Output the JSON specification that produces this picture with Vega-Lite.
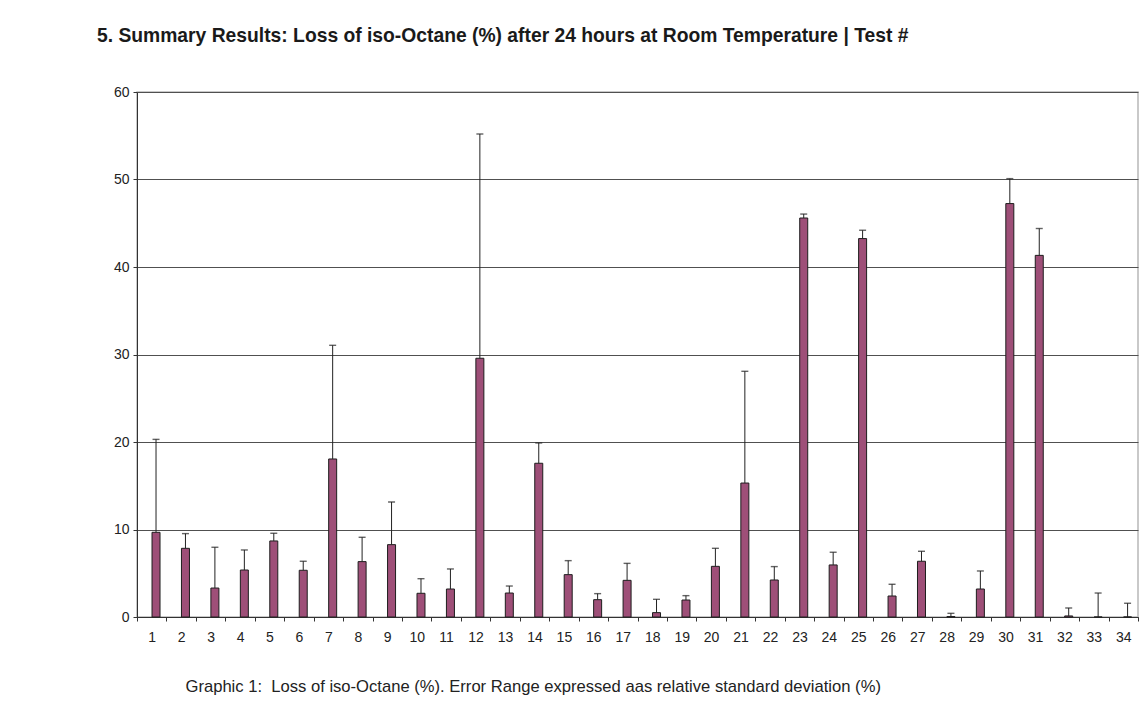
{
  "$schema": "https://vega.github.io/schema/vega-lite/v6.json",
  "width": 1001,
  "height": 525,
  "autosize": {"type": "none"},
  "padding": {"left": 137, "top": 92, "right": 3, "bottom": 99},
  "background": "white",
  "title": {
    "text": "5. Summary Results: Loss of iso-Octane (%) after 24 hours at Room Temperature | Test #",
    "anchor": "start",
    "frame": "group",
    "dx": -40,
    "offset": 39,
    "font": "Liberation Sans",
    "fontSize": 19.3,
    "fontWeight": "bold",
    "color": "#1a1a1a"
  },
  "config": {
    "view": {"stroke": "#b8b8b8", "strokeWidth": 1.5},
    "font": "Liberation Sans"
  },
  "data": {
    "values": [
      {"test": "1", "loss": 9.68, "upper": 20.3},
      {"test": "2", "loss": 7.85, "upper": 9.53},
      {"test": "3", "loss": 3.31, "upper": 7.97},
      {"test": "4", "loss": 5.37, "upper": 7.66},
      {"test": "5", "loss": 8.69, "upper": 9.57},
      {"test": "6", "loss": 5.34, "upper": 6.37},
      {"test": "7", "loss": 18.06, "upper": 31.05},
      {"test": "8", "loss": 6.33, "upper": 9.11},
      {"test": "9", "loss": 8.27, "upper": 13.14},
      {"test": "10", "loss": 2.71, "upper": 4.38},
      {"test": "11", "loss": 3.2, "upper": 5.49},
      {"test": "12", "loss": 29.57, "upper": 55.2},
      {"test": "13", "loss": 2.74, "upper": 3.54},
      {"test": "14", "loss": 17.57, "upper": 19.89},
      {"test": "15", "loss": 4.84, "upper": 6.44},
      {"test": "16", "loss": 1.98, "upper": 2.67},
      {"test": "17", "loss": 4.19, "upper": 6.13},
      {"test": "18", "loss": 0.5, "upper": 2.02},
      {"test": "19", "loss": 1.94, "upper": 2.44},
      {"test": "20", "loss": 5.79, "upper": 7.85},
      {"test": "21", "loss": 15.31, "upper": 28.08},
      {"test": "22", "loss": 4.23, "upper": 5.76},
      {"test": "23", "loss": 45.6, "upper": 46.05},
      {"test": "24", "loss": 5.95, "upper": 7.4},
      {"test": "25", "loss": 43.25, "upper": 44.2},
      {"test": "26", "loss": 2.4, "upper": 3.74},
      {"test": "27", "loss": 6.37, "upper": 7.51},
      {"test": "28", "loss": 0.05, "upper": 0.42},
      {"test": "29", "loss": 3.2, "upper": 5.26},
      {"test": "30", "loss": 47.25, "upper": 50.1},
      {"test": "31", "loss": 41.33, "upper": 44.4},
      {"test": "32", "loss": 0.12, "upper": 1.03},
      {"test": "33", "loss": 0, "upper": 2.74},
      {"test": "34", "loss": 0, "upper": 1.57}
    ]
  },
  "encoding": {
    "x": {
      "field": "test",
      "type": "ordinal",
      "sort": null,
      "scale": {"paddingInner": 0, "paddingOuter": 0},
      "axis": {
        "labelAngle": 0,
        "tickBand": "extent",
        "tickSize": 4,
        "tickColor": "#333333",
        "domainColor": "#333333",
        "labelFontSize": 14,
        "labelColor": "#222222",
        "labelPadding": 9,
        "title": "Graphic 1:\u00a0 Loss of iso-Octane (%). Error Range expressed aas relative standard deviation (%)",
        "titleFontSize": 16.6,
        "titleFontWeight": "normal",
        "titleColor": "#222222",
        "titleAlign": "left",
        "titleAnchor": "start",
        "titleBaseline": "alphabetic",
        "titleX": 48,
        "titleY": 74
      }
    }
  },
  "layer": [
    {
      "mark": {"type": "bar", "size": 8, "xOffset": 4.3, "fill": "#9e4f78", "stroke": "#1e1e1e", "strokeWidth": 1},
      "encoding": {
        "y": {
          "field": "loss",
          "type": "quantitative",
          "scale": {"domain": [0, 60], "nice": false},
          "axis": {
            "values": [0, 10, 20, 30, 40, 50, 60],
            "title": null,
            "grid": true,
            "gridColor": "#505050",
            "gridWidth": 1,
            "gridOpacity": 1,
            "tickSize": 4,
            "tickColor": "#333333",
            "domainColor": "#333333",
            "labelFontSize": 14,
            "labelColor": "#222222",
            "labelPadding": 4
          }
        }
      }
    },
    {
      "mark": {"type": "rule", "xOffset": 4.3, "color": "#222222", "strokeWidth": 1},
      "encoding": {
        "y": {"field": "loss", "type": "quantitative"},
        "y2": {"field": "upper"}
      }
    },
    {
      "mark": {"type": "tick", "xOffset": 4.3, "orient": "horizontal", "size": 7, "thickness": 1.4, "color": "#222222"},
      "encoding": {
        "y": {"field": "upper", "type": "quantitative"}
      }
    }
  ]
}
